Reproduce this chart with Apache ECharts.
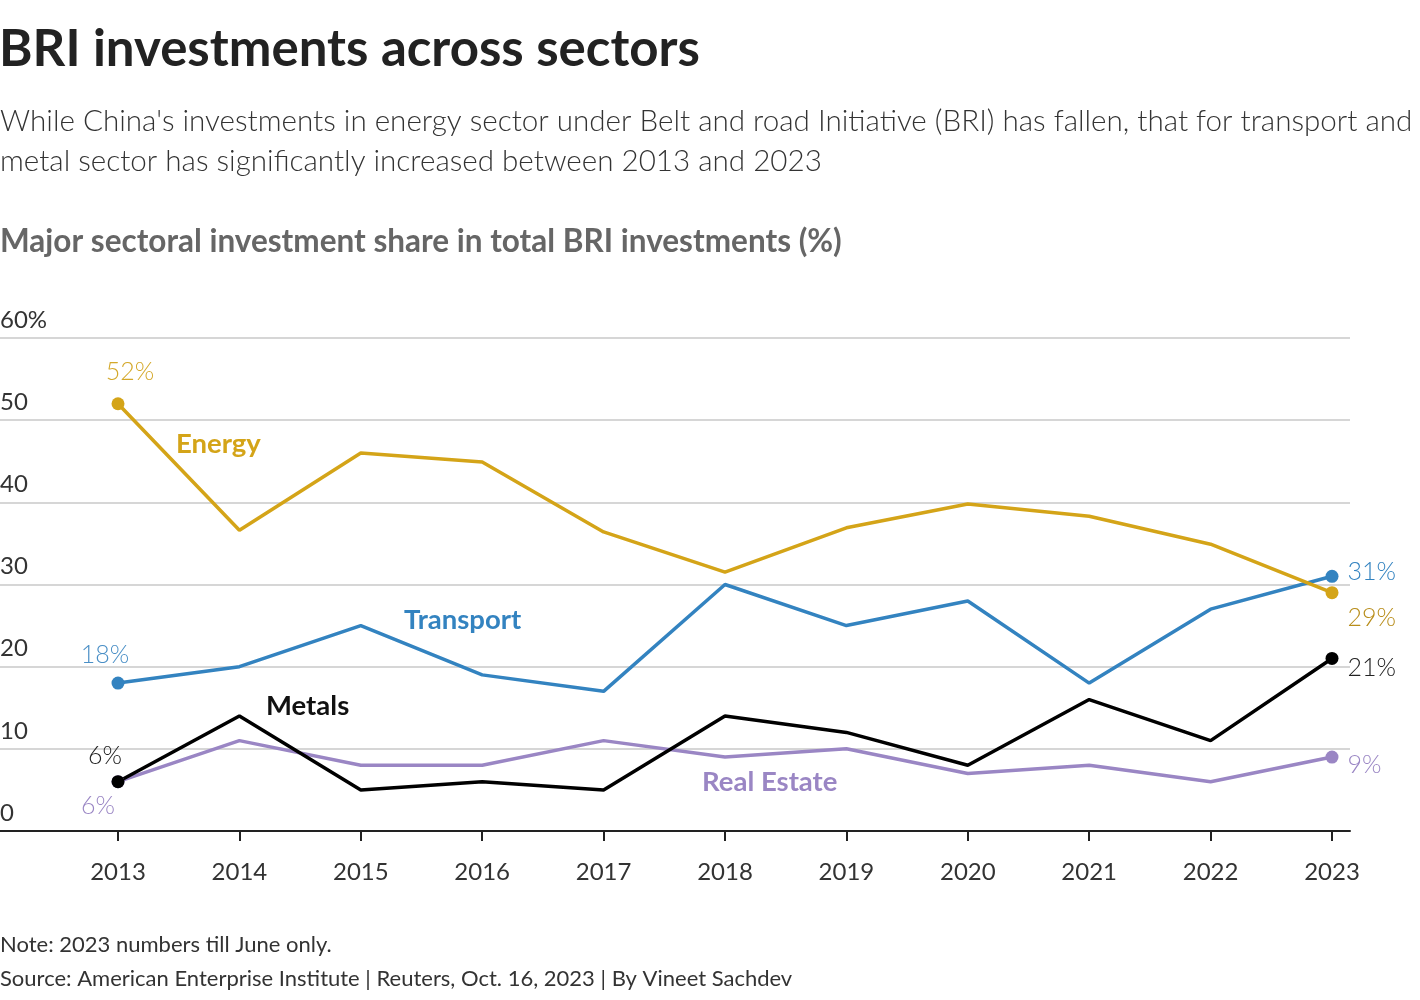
<!DOCTYPE html>
<html>
<head>
<meta charset="utf-8">
<script src="https://cdn.jsdelivr.net/npm/echarts@6/dist/echarts.min.js"></script>
<style>
html,body{margin:0;padding:0;background:#fff;}
#chart{width:1420px;height:1000px;}
</style>
</head>
<body>
<div id="chart"></div>
<script>
const years = [2013, 2014, 2015, 2016, 2017, 2018, 2019, 2020, 2021, 2022, 2023];
const energy = [52, 36.6, 46, 44.9, 36.4, 31.5, 36.9, 39.8, 38.3, 34.9, 29];
const transport = [18, 20, 25, 19, 17, 30, 25, 28, 18, 27, 31];
const metals = [6, 14, 5, 6, 5, 14, 12, 8, 16, 11, 21];
const realEstate = [6, 11, 8, 8, 11, 9, 10, 7, 8, 6, 9];
const yTicks = [0, 10, 20, 30, 40, 50, 60];

const FONT = 'Lato';

function buildData(values, firstLabel, lastLabel) {
  return values.map((v, i) => {
    const item = { value: [years[i], v] };
    if (i === 0 || i === values.length - 1) {
      const lab = i === 0 ? firstLabel : lastLabel;
      item.symbol = 'circle';
      item.symbolSize = 13;
      item.label = Object.assign({
        show: true,
        formatter: v + '%',
        fontFamily: FONT,
        fontSize: 25,
        fontWeight: 300
      }, lab);
    }
    return item;
  });
}

const chart = echarts.init(document.getElementById('chart'));
const option = {
  backgroundColor: '#fff',
  animation: false,
  title: [
    { text: 'BRI investments across sectors', left: -1, top: 24, padding: 0,
      textStyle: { fontFamily: FONT, fontSize: 51, fontWeight: 'bold', color: '#222' } },
    { text: "While China's investments in energy sector under Belt and road Initiative (BRI) has fallen, that for transport and\nmetal sector has significantly increased between 2013 and 2023",
      left: 0, top: 101, padding: 0,
      textStyle: { fontFamily: FONT, fontSize: 29.6, fontWeight: 300, color: '#333', lineHeight: 40 } },
    { text: 'Major sectoral investment share in total BRI investments (%)', left: 0, top: 226, padding: 0,
      textStyle: { fontFamily: FONT, fontSize: 31.5, fontWeight: 'bold', color: '#666' } },
    { text: 'Note: 2023 numbers till June only.', left: 0, top: 934, padding: 0,
      textStyle: { fontFamily: FONT, fontSize: 22, fontWeight: 'normal', color: '#333' } },
    { text: 'Source: American Enterprise Institute | Reuters, Oct. 16, 2023 | By Vineet Sachdev', left: 0, top: 968, padding: 0,
      textStyle: { fontFamily: FONT, fontSize: 22, fontWeight: 'normal', color: '#333' } }
  ],
  grid: { left: 0, right: 70, top: 338, bottom: 169, containLabel: false, outerBoundsMode: 'none' },
  xAxis: {
    type: 'value',
    min: 2013 - 118 / 121.4,
    max: 2023 + 18 / 121.4,
    splitLine: { show: false },
    axisLine: { show: true, lineStyle: { color: '#222', width: 2 } },
    axisTick: { show: true, customValues: years, length: 10, lineStyle: { color: '#222', width: 2 } },
    axisLabel: { customValues: years, margin: 29, fontFamily: FONT, fontSize: 24, color: '#333',
      formatter: v => String(v) }
  },
  yAxis: {
    type: 'value',
    min: 0, max: 60, interval: 10,
    axisLine: { show: false },
    axisTick: { show: false },
    splitLine: { lineStyle: { color: '#c8c8c8', width: 1.5 } },
    axisLabel: {
      inside: true, margin: 0, align: 'left', verticalAlign: 'bottom',
      padding: [0, 0, 6, 0],
      fontFamily: FONT, fontSize: 24, color: '#333',
      formatter: v => (v === 60 ? v + '%' : String(v))
    }
  },
  series: [
    { name: 'Real Estate', type: 'line', color: '#9a86c4', lineStyle: { width: 3.5 }, showSymbol: true, symbol: 'none',
      data: buildData(realEstate,
        { position: 'bottom', offset: [-20, 0], color: '#9a86c4' },
        { position: 'right', offset: [4, 8], color: '#9a86c4' }) },
    { name: 'Metals', type: 'line', color: '#000', lineStyle: { width: 3.5 }, showSymbol: true, symbol: 'none',
      data: buildData(metals,
        { position: 'top', offset: [-13, -2], color: '#222' },
        { position: 'right', offset: [4, 9], color: '#222' }) },
    { name: 'Transport', type: 'line', color: '#3383c0', lineStyle: { width: 3.5 }, showSymbol: true, symbol: 'none',
      data: buildData(transport,
        { position: 'top', offset: [-13, -4], color: '#4a8fc6' },
        { position: 'right', offset: [4, -4], color: '#3383c0' }) },
    { name: 'Energy', type: 'line', color: '#d4a418', lineStyle: { width: 3.5 }, showSymbol: true, symbol: 'none',
      data: buildData(energy,
        { position: 'top', offset: [12, -8], color: '#d4a82a' },
        { position: 'right', offset: [4, 25], color: '#b88d1a' }) }
  ],
  graphic: [
    { type: 'text', left: 176, top: 430, style: { text: 'Energy', font: 'bold 27.5px ' + FONT, fill: '#d4a418' } },
    { type: 'text', left: 404, top: 606, style: { text: 'Transport', font: 'bold 27.5px ' + FONT, fill: '#3383c0' } },
    { type: 'text', left: 266, top: 692, style: { text: 'Metals', font: 'bold 27.5px ' + FONT, fill: '#111' } },
    { type: 'text', left: 702, top: 768, style: { text: 'Real Estate', font: 'bold 27.5px ' + FONT, fill: '#9a86c4' } }
  ]
};
chart.setOption(option);
</script>
</body>
</html>
